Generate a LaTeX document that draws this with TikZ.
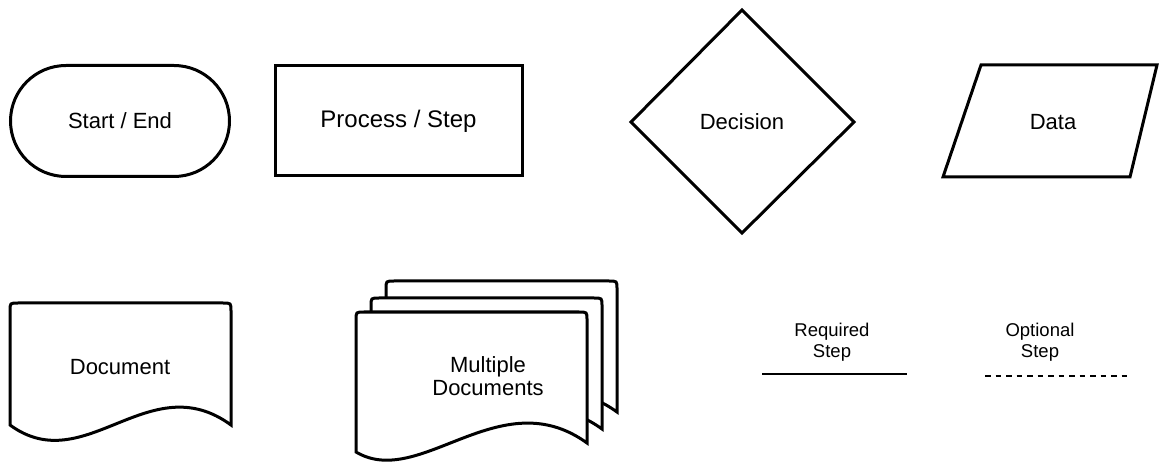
\documentclass[tikz,border=0pt]{standalone}
\usepackage{fontspec}
\setmainfont{Liberation Sans}
\usetikzlibrary{shapes.misc}
\begin{document}
\begin{tikzpicture}[x=1pt,y=-1pt,
  shapeline/.style={line width=3pt},
  lbl/.style={font=\fontsize{22}{23.5}\selectfont, align=center, inner sep=0pt},
  smalllbl/.style={font=\fontsize{18.5}{21}\selectfont, align=center, inner sep=0pt},
  sheet/.pic={
    \draw[shapeline, fill=white] (356,452) -- (356,320) .. controls (356,312) .. (364,312)
      -- (579,312) .. controls (587,312) .. (587,320) -- (587,443)
      .. controls (500,380) and (420,490) .. (356,452) -- cycle;
  }
]
\useasboundingbox (0,0) rectangle (1159,462);

% terminator
\node[shapeline, draw, rounded rectangle, minimum width=219pt, minimum height=111pt,
      lbl] (start) at (120,121) {Start / End};

% process
\node[shapeline, draw, minimum width=247pt, minimum height=110pt, lbl,
      font=\fontsize{24}{26}\selectfont]
      (process) at (398.5,121) {Process / Step};

% decision
\draw[shapeline] (742,10) -- (854,122) -- (742,233) -- (631,122) -- cycle;
\node[lbl] (decision) at (742,122) {Decision};

% data
\draw[shapeline] (981,65) -- (1157,65) -- (1130,177) -- (943,177) -- cycle;
\node[lbl] (data) at (1053,122) {Data};

% single document
\draw[shapeline] (10,425) -- (10,311) .. controls (10,303) .. (18,303)
  -- (223,303) .. controls (231,303) .. (231,311) -- (231,425)
  .. controls (149,365) and (85,480) .. (10,425) -- cycle;
\node[lbl] (document) at (120,367) {Document};

% stacked documents
\pic at (30,-31) {sheet};
\pic at (15,-14) {sheet};
\pic at (0,0) {sheet};
\node[lbl] (multi) at (488,376) {Multiple\\Documents};

% connector legend
\node[smalllbl] (req) at (832,342) {Required\\Step};
\coordinate (r1) at (762,374);
\coordinate (r2) at (907,374);
\draw[line width=1.3pt] (r1) -- (r2);

\node[smalllbl] (opt) at (1040,342) {Optional\\Step};
\coordinate (o1) at (985,376);
\coordinate (o2) at (1128,376);
\draw[line width=1.3pt, dash pattern=on 5.5pt off 5pt] (o1) -- (o2);
\end{tikzpicture}
\end{document}
